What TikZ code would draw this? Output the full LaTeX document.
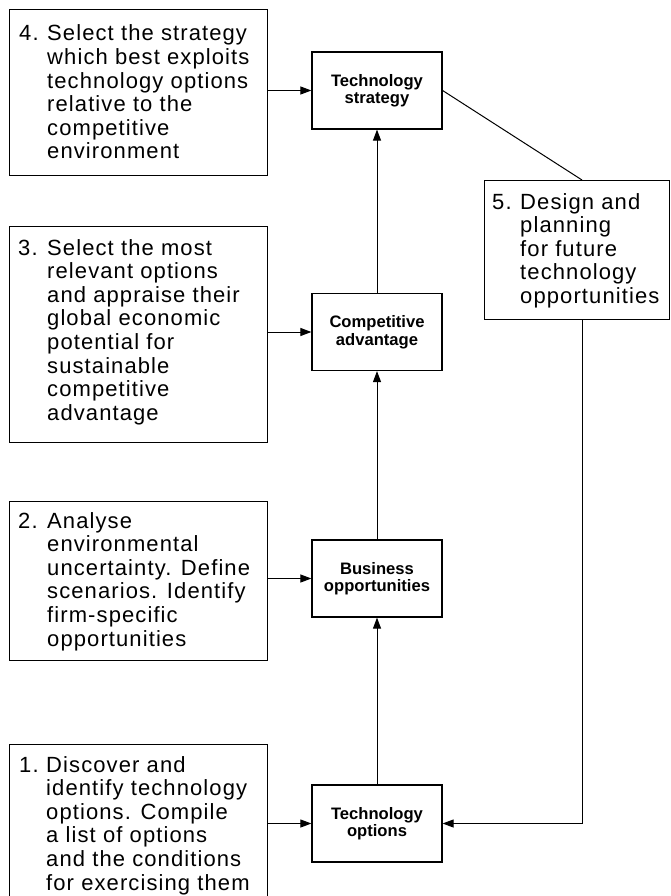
\documentclass[tikz,border=0pt]{standalone}
\usepackage{fontspec}
\setmainfont{Liberation Sans}
\newfontfamily\bodyfont[LetterSpace=5.0]{Liberation Sans}
\usetikzlibrary{arrows.meta}
\tikzset{
  lbox/.style={draw, line width=1.2pt, rectangle, inner sep=0pt, anchor=north west},
  cbox/.style={draw, line width=1.2pt, rectangle, inner sep=0pt, minimum width=130pt, minimum height=77pt,
    align=center, font=\bfseries\fontsize{16.6}{17.5}\selectfont},
  txt/.style={anchor=base west, inner sep=0pt, font=\bodyfont\fontsize{22}{23.6}\selectfont},
  link/.style={line width=1pt},
  arr/.style={line width=1pt, -{Triangle[length=11pt,width=8pt]}}
}
\begin{document}
\begin{tikzpicture}[x=1pt,y=-1pt]
\useasboundingbox (0,0) rectangle (670,896);
\fill[white] (0,0) rectangle (670,896);
\clip (0,0) rectangle (670,896);

% left boxes
\node[lbox, minimum width=258pt, minimum height=166pt] (b4) at (9,9) {};
\node[lbox, minimum width=258pt, minimum height=216pt] (b3) at (9,226) {};
\node[lbox, minimum width=258pt, minimum height=159pt] (b2) at (9,501) {};
\node[lbox, minimum width=258pt, minimum height=170pt] (b1) at (9,744) {};
\node[lbox, minimum width=185pt, minimum height=139pt] (b5) at (484,180) {};

\node[txt] (t4) at (19,41) {\begin{tabular}[t]{@{}p{28pt}@{}l@{}}
4. & Select the strategy\\
 & which best exploits\\
 & technology options\\
 & relative to the\\
 & competitive\\
 & environment
\end{tabular}};

\node[txt] (t3) at (18,255) {\begin{tabular}[t]{@{}p{29pt}@{}l@{}}
3. & Select the most\\
 & relevant options\\
 & and appraise their\\
 & global economic\\
 & potential for\\
 & sustainable\\
 & competitive\\
 & advantage
\end{tabular}};

\node[txt] (t2) at (18,528) {\begin{tabular}[t]{@{}p{29pt}@{}l@{}}
2. & Analyse\\
 & environmental\\
 & uncertainty. Define\\
 & scenarios. Identify\\
 & firm-specific\\
 & opportunities
\end{tabular}};

\node[txt] (t1) at (19,772) {\begin{tabular}[t]{@{}p{27pt}@{}l@{}}
1. & Discover and\\
 & identify technology\\
 & options. Compile\\
 & a list of options\\
 & and the conditions\\
 & for exercising them
\end{tabular}};

\node[txt] (t5) at (492,209) {\begin{tabular}[t]{@{}p{28pt}@{}l@{}}
5. & Design and\\
 & planning\\
 & for future\\
 & technology\\
 & opportunities
\end{tabular}};

% centre boxes
\node[cbox] (ts) at (377,90.5) {Technology\\strategy};
\node[cbox] (ca) at (377,332) {Competitive\\advantage};
\node[cbox] (bo) at (377,578.5) {Business\\opportunities};
\node[cbox] (to) at (377,823.5) {Technology\\options};

% connectors
\draw[arr] (b4.east |- ts.west) -- (ts.west);
\draw[arr] (b3.east |- ca.west) -- (ca.west);
\draw[arr] (b2.east |- bo.west) -- (bo.west);
\draw[arr] (b1.east |- to.west) -- (to.west);

\draw[arr] (to.north) -- (bo.south);
\draw[arr] (bo.north) -- (ca.south);
\draw[arr] (ca.north) -- (ts.south);

\coordinate (b5top) at (582,180);
\draw[link] (ts.east) -- (b5top);
\draw[arr] (b5.south -| b5top) |- (to.east);
\end{tikzpicture}
\end{document}
